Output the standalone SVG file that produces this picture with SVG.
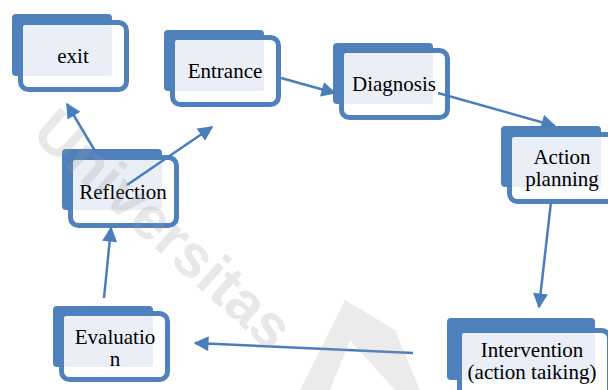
<svg xmlns="http://www.w3.org/2000/svg" width="608" height="390" viewBox="0 0 608 390">
<defs>
<style>
.back{fill:#4F81BD;}
.front{fill:#FFFFFF;stroke:#4F81BD;stroke-width:5;}
.light{fill:#EAEFF7;}
.lbl{font-family:"Liberation Serif","Times New Roman",serif;font-size:21px;fill:#000;text-anchor:middle;}
.conn{stroke:#4A7EBB;stroke-width:2.5;fill:none;marker-end:url(#ah);}
.wm{font-family:"Liberation Sans",Arial,sans-serif;font-weight:bold;font-size:60px;fill:#9a9a9a;opacity:0.22;}
</style>
<marker id="ah" viewBox="0 0 10 10" refX="9" refY="5" markerWidth="6.5" markerHeight="6" orient="auto" markerUnits="strokeWidth">
<path d="M0,0 L10,5 L0,10 z" fill="#4A7EBB"/>
</marker>
</defs>
<rect width="608" height="390" fill="#FFFFFF"/>
<g id="node-exit">
<rect class="back" x="12" y="14" width="100" height="62" rx="4"/>
<rect class="front" x="20.5" y="22.5" width="106" height="67" rx="8"/>
<rect class="light" x="23" y="25" width="89" height="51" rx="2"/>
<text class="lbl" x="73" y="63">exit</text>
</g>
<g id="node-entrance">
<rect class="back" x="164" y="30" width="100" height="61" rx="4"/>
<rect class="front" x="172.5" y="37.5" width="106" height="67" rx="8"/>
<rect class="light" x="175" y="40" width="89" height="51" rx="2"/>
<text class="lbl" x="225" y="78">Entrance</text>
</g>
<g id="node-diagnosis">
<rect class="back" x="333" y="43" width="100" height="61" rx="4"/>
<rect class="front" x="341.5" y="50.5" width="106" height="67" rx="8"/>
<rect class="light" x="344" y="53" width="89" height="51" rx="2"/>
<text class="lbl" x="394" y="91">Diagnosis</text>
</g>
<g id="node-action-planning">
<rect class="back" x="501" y="126" width="100" height="61" rx="4"/>
<rect class="front" x="509.5" y="134.5" width="106" height="67" rx="8"/>
<rect class="light" x="512" y="137" width="89" height="50" rx="2"/>
<text class="lbl" x="562" y="164">Action</text>
<text class="lbl" x="562" y="186">planning</text>
</g>
<g id="node-reflection">
<rect class="back" x="62" y="149" width="100" height="61" rx="4"/>
<rect class="front" x="70.5" y="157.5" width="106" height="68" rx="8"/>
<rect class="light" x="73" y="160" width="89" height="50" rx="2"/>
<text class="lbl" x="123" y="199">Reflection</text>
</g>
<g id="node-evaluation">
<rect class="back" x="53" y="306" width="100" height="61" rx="4"/>
<rect class="front" x="61.5" y="313.5" width="106" height="66" rx="8"/>
<rect class="light" x="64" y="316" width="89" height="51" rx="2"/>
<text class="lbl" x="115" y="344">Evaluatio</text>
<text class="lbl" x="115" y="366">n</text>
</g>
<g id="node-intervention">
<rect class="back" x="447" y="318" width="148" height="62" rx="4"/>
<rect class="front" x="459.5" y="330.5" width="150" height="70" rx="8"/>
<rect class="light" x="462" y="333" width="133" height="47" rx="2"/>
<text class="lbl" x="532" y="357">Intervention</text>
<text class="lbl" x="532" y="379">(action taiking)</text>
</g>
<g id="connectors">
<line class="conn" x1="95" y1="151" x2="67" y2="104"/>
<line class="conn" x1="127" y1="185" x2="212" y2="127"/>
<line class="conn" x1="281" y1="78" x2="335" y2="93"/>
<line class="conn" x1="438" y1="93" x2="555" y2="126"/>
<line class="conn" x1="551" y1="202" x2="539" y2="307"/>
<line class="conn" x1="413" y1="353" x2="195" y2="343"/>
<line class="conn" x1="104" y1="298" x2="111" y2="228"/>
</g>
<g id="watermark">
<text class="wm" x="30" y="136" transform="rotate(42 30 136)">Universitas</text>
<path d="M300,390 L345,300 L395,330 L420,390 L395,390 L350,340 L330,390 z" fill="#9a9a9a" opacity="0.2"/>
</g>
</svg>
